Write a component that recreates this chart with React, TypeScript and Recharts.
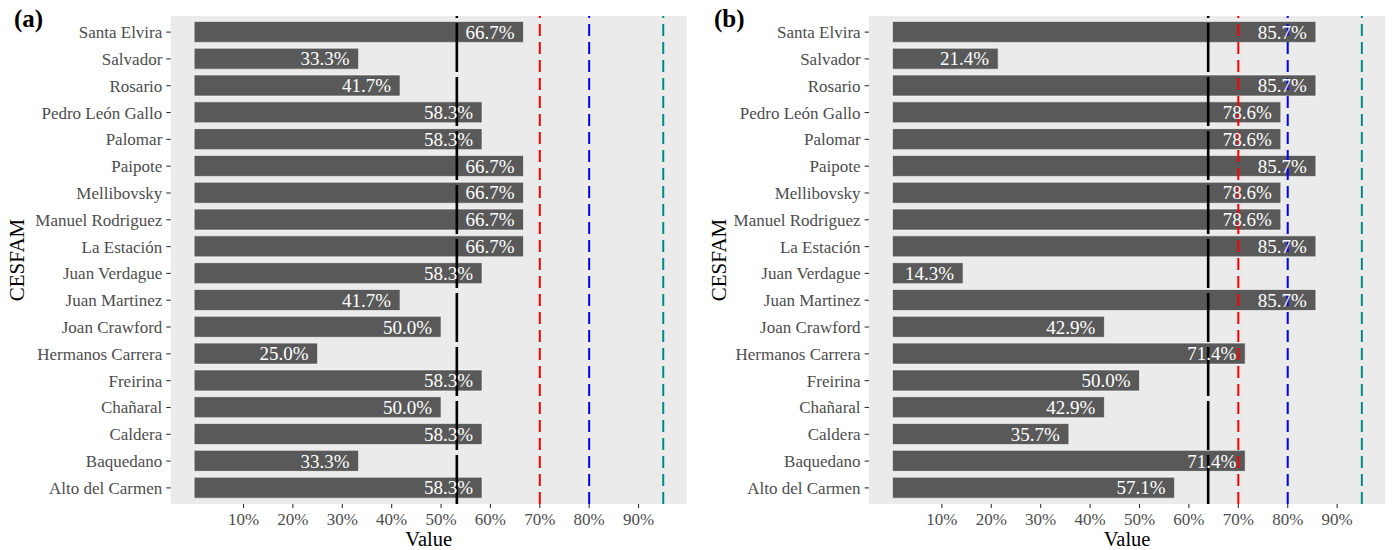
import React from 'react';
import {
  BarChart,
  Bar,
  XAxis,
  YAxis,
  CartesianGrid,
  ReferenceLine,
  LabelList,
} from 'recharts';

const categories = [
  'Santa Elvira',
  'Salvador',
  'Rosario',
  'Pedro León Gallo',
  'Palomar',
  'Paipote',
  'Mellibovsky',
  'Manuel Rodriguez',
  'La Estación',
  'Juan Verdague',
  'Juan Martinez',
  'Joan Crawford',
  'Hermanos Carrera',
  'Freirina',
  'Chañaral',
  'Caldera',
  'Baquedano',
  'Alto del Carmen',
];

const valuesA = [
  66.7, 33.3, 41.7, 58.3, 58.3, 66.7, 66.7, 66.7, 66.7, 58.3, 41.7, 50.0, 25.0,
  58.3, 50.0, 58.3, 33.3, 58.3,
];

const valuesB = [
  85.7, 21.4, 85.7, 78.6, 78.6, 85.7, 78.6, 78.6, 85.7, 14.3, 85.7, 42.9, 71.4,
  50.0, 42.9, 35.7, 71.4, 57.1,
];

const meanA = 53.2;
const meanB = 63.9;

const targetValues = [70, 80, 95];
const targetColors = ['#FF0000', '#0000FF', '#008B8B'];

const xTicks = [10, 20, 30, 40, 50, 60, 70, 80, 90];
const minorTicks = [0, 5, 15, 25, 35, 45, 55, 65, 75, 85, 95];

const FONT = '"Liberation Serif", "DejaVu Serif", serif';

interface PanelProps {
  values: number[];
  mean: number;
  axisWidth: number;
  marginRight: number;
}

function Panel({ values, mean, axisWidth, marginRight }: PanelProps) {
  const data = categories.map((name, i) => ({ name, value: values[i] }));

  return (
    <BarChart
      width={696}
      height={550}
      data={data}
      layout="vertical"
      barCategoryGap="10%"
      margin={{ top: 16, right: marginRight, bottom: 0, left: 0 }}
    >
      <rect x={axisWidth} y={16} width={696 - axisWidth - marginRight} height={488} fill="#EBEBEB" />
      <CartesianGrid
        stroke="#FFFFFF"
        strokeWidth={0.6}
        horizontal={false}
        verticalValues={minorTicks}
      />
      <CartesianGrid stroke="#FFFFFF" strokeWidth={1.3} verticalValues={xTicks} />
      <XAxis
        type="number"
        domain={[-4.75, 99.75]}
        ticks={xTicks}
        allowDataOverflow
        height={46}
        tickFormatter={(v: number) => `${v}%`}
        tick={{ fill: '#4D4D4D', fontSize: 17, fontFamily: FONT }}
        tickLine={{ stroke: '#333333', strokeWidth: 1.1 }}
        tickSize={4}
        tickMargin={5}
        axisLine={false}
        label={{
          value: 'Value',
          position: 'insideBottom',
          offset: 4,
          fill: '#000000',
          fontSize: 20.5,
          fontFamily: FONT,
        }}
      />
      <YAxis
        type="category"
        dataKey="name"
        width={axisWidth}
        padding={{ top: 2.7, bottom: 2.7 }}
        interval={0}
        tick={{ fill: '#4D4D4D', fontSize: 17, fontFamily: FONT }}
        tickLine={{ stroke: '#333333', strokeWidth: 1.1 }}
        tickSize={4.4}
        tickMargin={4}
        axisLine={false}
      />
      <Bar
        dataKey="value"
        fill="#595959"
        stroke="#FFFFFF"
        strokeWidth={0.6}
        isAnimationActive={false}
      >
        <LabelList
          dataKey="value"
          position="insideRight"
          offset={9}
          formatter={(v: number) => `${v.toFixed(1)}%`}
          fill="#FFFFFF"
          fontSize={19}
          fontFamily={FONT}
        />
      </Bar>
      <ReferenceLine x={mean} stroke="#000000" strokeWidth={2.6} strokeDasharray="49 5" />
      {targetValues.map((t, i) => (
        <ReferenceLine
          key={t}
          x={t}
          stroke={targetColors[i]}
          strokeWidth={2}
          strokeDasharray="12 6"
        />
      ))}
    </BarChart>
  );
}

export default function App() {
  const tagStyle: React.CSSProperties = {
    position: 'absolute',
    top: 4,
    fontFamily: FONT,
    fontWeight: 'bold',
    fontSize: 25,
    lineHeight: '30px',
  };
  const yTitleStyle: React.CSSProperties = {
    position: 'absolute',
    top: 260,
    fontFamily: FONT,
    fontSize: 21,
    lineHeight: '24px',
    transform: 'translate(-50%, -50%) rotate(-90deg)',
    whiteSpace: 'nowrap',
  };

  return (
    <div
      style={{
        position: 'absolute',
        left: 0,
        top: 0,
        width: 1392,
        height: 550,
        background: '#FFFFFF',
      }}
    >
      <div style={{ position: 'absolute', left: 0, top: 0 }}>
        <Panel values={valuesA} mean={meanA} axisWidth={170.7} marginRight={9.3} />
      </div>
      <div style={{ position: 'absolute', left: 696, top: 0 }}>
        <Panel values={valuesB} mean={meanB} axisWidth={173} marginRight={6.7} />
      </div>
      <div style={{ ...tagStyle, left: 14 }}>(a)</div>
      <div style={{ ...tagStyle, left: 714 }}>(b)</div>
      <div style={{ ...yTitleStyle, left: 17 }}>CESFAM</div>
      <div style={{ ...yTitleStyle, left: 719 }}>CESFAM</div>
    </div>
  );
}
